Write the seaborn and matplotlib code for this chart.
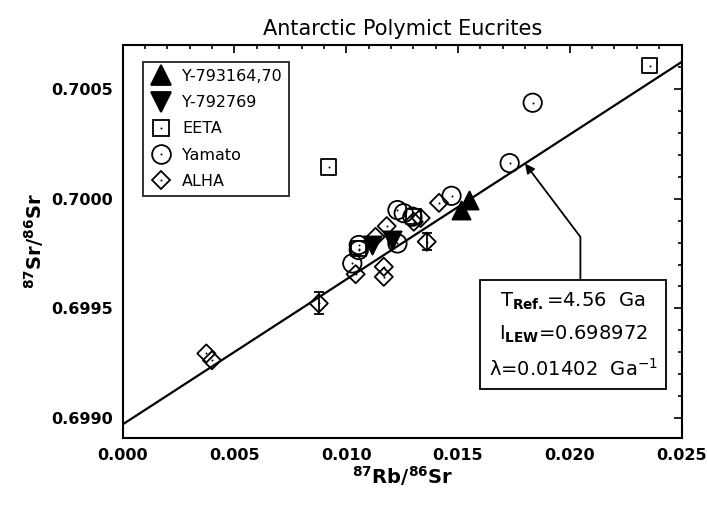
import numpy as np
import matplotlib
matplotlib.use("Agg")
import matplotlib.pyplot as plt
from matplotlib.lines import Line2D
from matplotlib.ticker import MultipleLocator, FormatStrFormatter
import seaborn as sns

# ---------------------------------------------------------------------------
# Data
# ---------------------------------------------------------------------------
y793164_x = [0.01550, 0.01512]
y793164_y = [0.699994, 0.699948]

y792769_x = [0.01206, 0.01117]
y792769_y = [0.699811, 0.699789]

eeta_x = [0.02357, 0.00921, 0.01056, 0.01300]
eeta_y = [0.700606, 0.700144, 0.699772, 0.699920]

yamato_x = [0.01834, 0.01731, 0.01471, 0.01229, 0.01257, 0.01296,
            0.01229, 0.01056, 0.01056, 0.01027]
yamato_y = [0.700437, 0.700162, 0.700013, 0.699948, 0.699934, 0.699918,
            0.699796, 0.699789, 0.699766, 0.699705]

alha_x = [0.00374, 0.00399, 0.00877, 0.01042, 0.01168, 0.01168,
          0.01131, 0.01181, 0.01302, 0.01333, 0.01360, 0.01415]
alha_y = [0.699295, 0.699264, 0.699523, 0.699656, 0.699690, 0.699644,
          0.699826, 0.699875, 0.699895, 0.699912, 0.699804, 0.699981]
alha_err = [0, 0, 0.00005, 0, 0, 0, 0, 0, 0, 0, 0.00004, 0]

# isochron parameters (from the box on the chart)
t_ref = 4.56          # Ga
i_lew = 0.698972
lam = 0.01402         # Ga^-1
arrow_tip = (0.0180, 0.70016)
box_pos = (0.02015, 0.699378)

# ---------------------------------------------------------------------------
# Plot
# ---------------------------------------------------------------------------
sns.set_theme(style="white")
plt.rcParams["font.family"] = ["DejaVu Sans"]
plt.rcParams["mathtext.fontset"] = "dejavusans"
for key in ("text.color", "axes.labelcolor", "xtick.color", "ytick.color"):
    plt.rcParams[key] = "black"

fig = plt.figure(figsize=(7.07, 5.05), dpi=100)
ax = fig.add_axes([0.1736, 0.1327, 0.7904, 0.7782])

x_line = np.array([0.0, 0.025])
sns.lineplot(x=x_line, y=i_lew + x_line * (np.exp(lam * t_ref) - 1),
             color="black", lw=1.6, ax=ax, zorder=2)

# error bars first so markers sit on top
err_x = [x for x, e in zip(alha_x, alha_err) if e > 0]
err_y = [y for y, e in zip(alha_y, alha_err) if e > 0]
err_e = [e for e in alha_err if e > 0]
ax.errorbar(err_x, err_y, yerr=err_e, fmt="none", ecolor="black",
            elinewidth=1.3, capsize=3.5, capthick=1.3, zorder=3)

groups = [
    ("Y-793164,70", y793164_x, y793164_y, "^", True, 170, 15),
    ("Y-792769", y792769_x, y792769_y, "v", True, 170, 15),
    ("EETA", eeta_x, eeta_y, "s", False, 120, 11),
    ("Yamato", yamato_x, yamato_y, "o", False, 175, 13.5),
    ("ALHA", alha_x, alha_y, "D", False, 85, 9.5),
]

handles, labels = [], []
for name, xs, ys, mk, filled, size, leg_ms in groups:
    sns.scatterplot(x=xs, y=ys, marker=mk, s=size, ax=ax, zorder=4,
                    facecolor="black" if filled else "none",
                    edgecolor="black", linewidth=1.3)
    h = Line2D([], [], ls="none", marker=mk, ms=leg_ms,
               mfc="black" if filled else "none", mec="black", mew=1.3)
    if not filled:
        ax.scatter(xs, ys, s=2, color="black", zorder=5, linewidths=0)
        h = (h, Line2D([], [], ls="none", marker="o", ms=1.4,
                       mfc="black", mec="black", mew=0))
    handles.append(h)
    labels.append(name)

leg = ax.legend(handles, labels, loc="upper left",
                bbox_to_anchor=(0.036, 0.957), frameon=True, fancybox=False,
                edgecolor="black", fontsize=11.5, handlelength=1.4,
                handletextpad=0.6, labelspacing=0.7, borderpad=0.45,
                borderaxespad=0)
leg.get_frame().set_linewidth(1.4)
leg.get_frame().set_facecolor("white")

box_text = (r"T$_{\mathbf{Ref.}}$=4.56  Ga" "\n"
            r"I$_{\mathbf{LEW}}$=0.698972" "\n"
            r"λ=0.01402  Ga$^{-1}$")
ax.annotate(box_text, xy=arrow_tip, xytext=box_pos,
            ha="center", va="center", fontsize=14, linespacing=1.75,
            bbox=dict(boxstyle="square,pad=0.45", fc="white", ec="black", lw=1.3),
            arrowprops=dict(arrowstyle="-|>", color="black", lw=1.3,
                            relpos=(0.543, 1.0), shrinkA=0, shrinkB=0,
                            mutation_scale=14,
                            connectionstyle="angle,angleA=90,angleB=127,rad=0"),
            zorder=6)

ax.set_xlim(0.0, 0.025)
ax.set_ylim(0.69891, 0.70070)
ax.xaxis.set_major_locator(MultipleLocator(0.005))
ax.xaxis.set_minor_locator(MultipleLocator(0.001))
ax.yaxis.set_major_locator(MultipleLocator(0.0005))
ax.yaxis.set_minor_locator(MultipleLocator(0.0001))
ax.xaxis.set_major_formatter(FormatStrFormatter("%.3f"))
ax.yaxis.set_major_formatter(FormatStrFormatter("%.4f"))
ax.tick_params(which="both", direction="in", top=True, right=True,
               color="black", width=1.2)
ax.tick_params(which="major", length=6, labelsize=11.5, pad=7)
ax.tick_params(which="minor", length=3)
for lab in ax.get_xticklabels() + ax.get_yticklabels():
    lab.set_fontweight("bold")
for sp in ax.spines.values():
    sp.set_color("black")
    sp.set_linewidth(1.5)

ax.set_title("Antarctic Polymict Eucrites", fontsize=15, pad=7)
ax.set_xlabel(r"$^{\mathbf{87}}$Rb/$^{\mathbf{86}}$Sr", fontsize=14,
              fontweight="bold", labelpad=1)
ax.set_ylabel(r"$^{\mathbf{87}}$Sr/$^{\mathbf{86}}$Sr", fontsize=14,
              fontweight="bold", labelpad=4)

fig.savefig("out.png", dpi=100)
